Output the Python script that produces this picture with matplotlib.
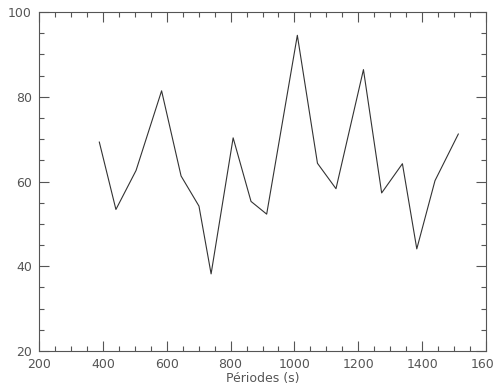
import matplotlib
matplotlib.use('Agg')
import matplotlib.pyplot as plt
from matplotlib.ticker import MultipleLocator

# periods (s) and period spacing dP (s)
periodes = [389, 441, 504, 584, 645, 701, 739, 808, 864, 913,
            1009, 1072, 1130, 1216, 1273, 1338, 1383, 1440, 1513]
dP = [69.3, 53.4, 62.6, 81.4, 61.3, 54.2, 38.2, 70.3, 55.3, 52.3,
      94.5, 64.3, 58.3, 86.4, 57.3, 64.2, 44.1, 60.2, 71.2]

grey = '#555555'
fig = plt.figure(figsize=(4.93, 3.87), dpi=100)
ax = fig.add_axes([0.079, 0.093, 0.907, 0.876])
ax.plot(periodes, dP, color='#333333', lw=0.8)

ax.set_xlim(200, 1600)
ax.set_ylim(20, 100)
ax.xaxis.set_major_locator(MultipleLocator(200))
ax.xaxis.set_minor_locator(MultipleLocator(50))
ax.yaxis.set_major_locator(MultipleLocator(20))
ax.yaxis.set_minor_locator(MultipleLocator(5))
ax.tick_params(which='both', direction='in', top=True, right=True,
               color=grey, width=0.8, labelsize=9, labelcolor=grey)
ax.tick_params(which='major', length=7, pad=5)
ax.tick_params(which='minor', length=3.5)
for s in ax.spines.values():
    s.set_color(grey)
    s.set_linewidth(0.8)

ax.set_xlabel('Périodes (s)', fontsize=9, color=grey, labelpad=1)
ax.set_ylabel('dP (s)', fontsize=9, color=grey)
ax.yaxis.set_label_coords(-0.085, 0.5)

fig.savefig('out.png', dpi=100)
